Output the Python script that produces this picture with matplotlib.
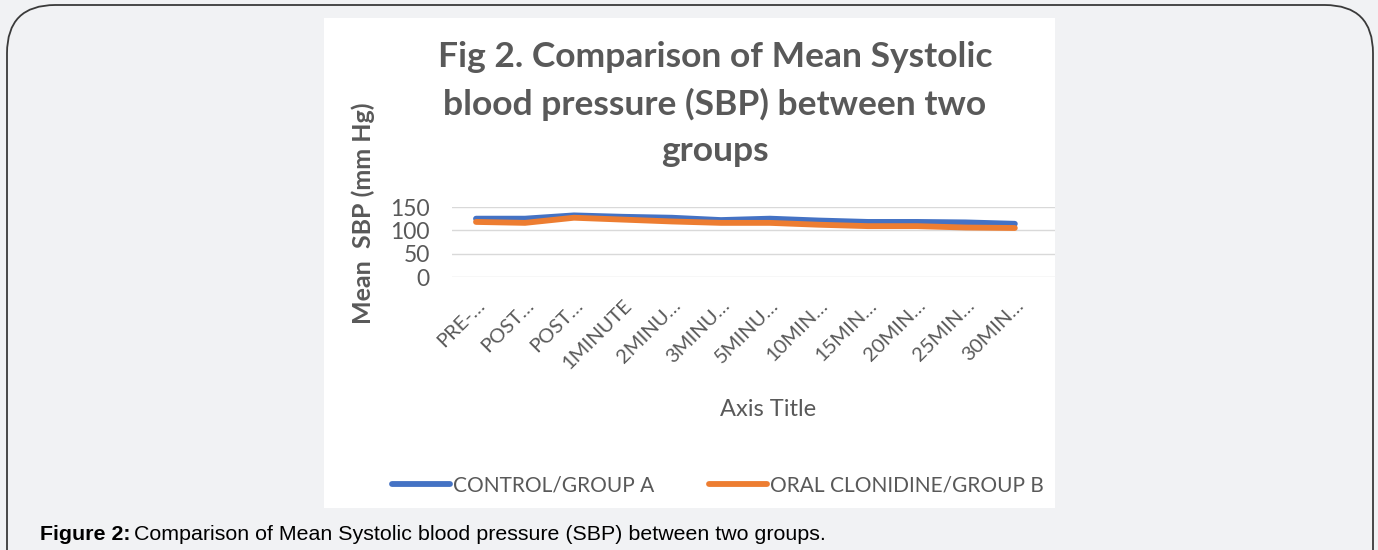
import numpy as np
import matplotlib
matplotlib.use("Agg")
import matplotlib.pyplot as plt
from matplotlib.patches import FancyBboxPatch, Rectangle

# datos
categorias = ["PRE-…", "POST…", "POST…", "1MINUTE", "2MINU…", "3MINU…",
              "5MINU…", "10MIN…", "15MIN…", "20MIN…", "25MIN…", "30MIN…"]
grupo_a = [125, 125, 132, 129, 127, 122, 125, 121, 118, 118, 117, 114]
grupo_b = [118, 116, 127, 123, 119, 116, 116, 112, 109, 109, 106, 105]
yticks = [0, 50, 100, 150]

W, H = 1378, 550
gris = "#595959"
fuente = ["Lato", "DejaVu Sans"]

fig = plt.figure(figsize=(W / 100, H / 100), dpi=100)
fig.patch.set_facecolor("#f1f2f4")

# marco redondeado exterior
marco = FancyBboxPatch((7 / W, -0.2), 1366 / W, 1.2 - 5 / H,
                       boxstyle="round,pad=0,rounding_size=0.035",
                       transform=fig.transFigure, fc="none", ec="#3a3a3a",
                       lw=1.3, mutation_aspect=W / H, zorder=-2)
fig.patches.append(marco)
# panel blanco del grafico
fig.patches.append(Rectangle((324 / W, 1 - 508 / H), (1055 - 324) / W, 490 / H,
                             transform=fig.transFigure, fc="white", ec="none",
                             zorder=-1))

ax = fig.add_axes([452 / W, 1 - 277 / H, (1055 - 452) / W, 70 / H])
ax.set_facecolor("none")
x = np.arange(len(categorias))
ax.plot(x, grupo_a, color="#4472C4", lw=4.2, solid_capstyle="round",
        label="CONTROL/GROUP A")
ax.plot(x, grupo_b, color="#ED7D31", lw=4.2, solid_capstyle="round",
        label="ORAL CLONIDINE/GROUP B")
ax.set_ylim(0, 150)
ax.set_xlim(-0.49, 11.82)
ax.set_yticks(yticks)
ax.set_yticklabels([str(v) for v in yticks], fontsize=16.5, color=gris, family=fuente)
ax.set_xticks(x)
ax.set_xticklabels(categorias, rotation=45, ha="right", rotation_mode="anchor",
                   fontsize=14.5, color=gris, family=fuente)
ax.tick_params(length=0)
ax.tick_params(axis="y", pad=16)
ax.tick_params(axis="x", pad=14)
ax.grid(axis="y", color="#d9d9d9", lw=1)
for s in ax.spines.values():
    s.set_visible(False)

ax.set_ylabel("Mean  SBP (mm Hg)", fontsize=18, fontweight="bold",
              color=gris, family=fuente)
ax.yaxis.set_label_coords((375 - 452) / (1055 - 452), (277 - 213) / 70)

fig.text(715 / W, 1 - 104 / H,
         "Fig 2. Comparison of Mean Systolic\nblood pressure (SBP) between two\ngroups",
         ha="center", va="center", fontsize=25.5, fontweight="bold", color=gris,
         family=fuente, linespacing=1.55)
fig.text(768 / W, 1 - 410 / H, "Axis Title", ha="center", va="center",
         fontsize=17, color=gris, family=fuente)

leg = fig.legend(loc="center", bbox_to_anchor=(718 / W, 1 - 485 / H), ncol=2,
                 frameon=False, handlelength=2.8, handletextpad=0.15,
                 columnspacing=2.6, prop={"family": fuente, "size": 15})
for t in leg.get_texts():
    t.set_color(gris)

# pie de figura: parte en negrita y resto normal
pie_b = fig.text(40 / W, 1 - 534 / H, "Figure 2:", ha="left", va="center",
                 fontsize=15.4, fontweight="bold", family="Liberation Sans")
fig.canvas.draw()
bb = pie_b.get_window_extent()
fig.text((bb.x1 + 4) / W, 1 - 534 / H,
         "Comparison of Mean Systolic blood pressure (SBP) between two groups.",
         ha="left", va="center", fontsize=15.4, family="Liberation Sans")

fig.savefig("out.png", dpi=100, facecolor=fig.get_facecolor())
